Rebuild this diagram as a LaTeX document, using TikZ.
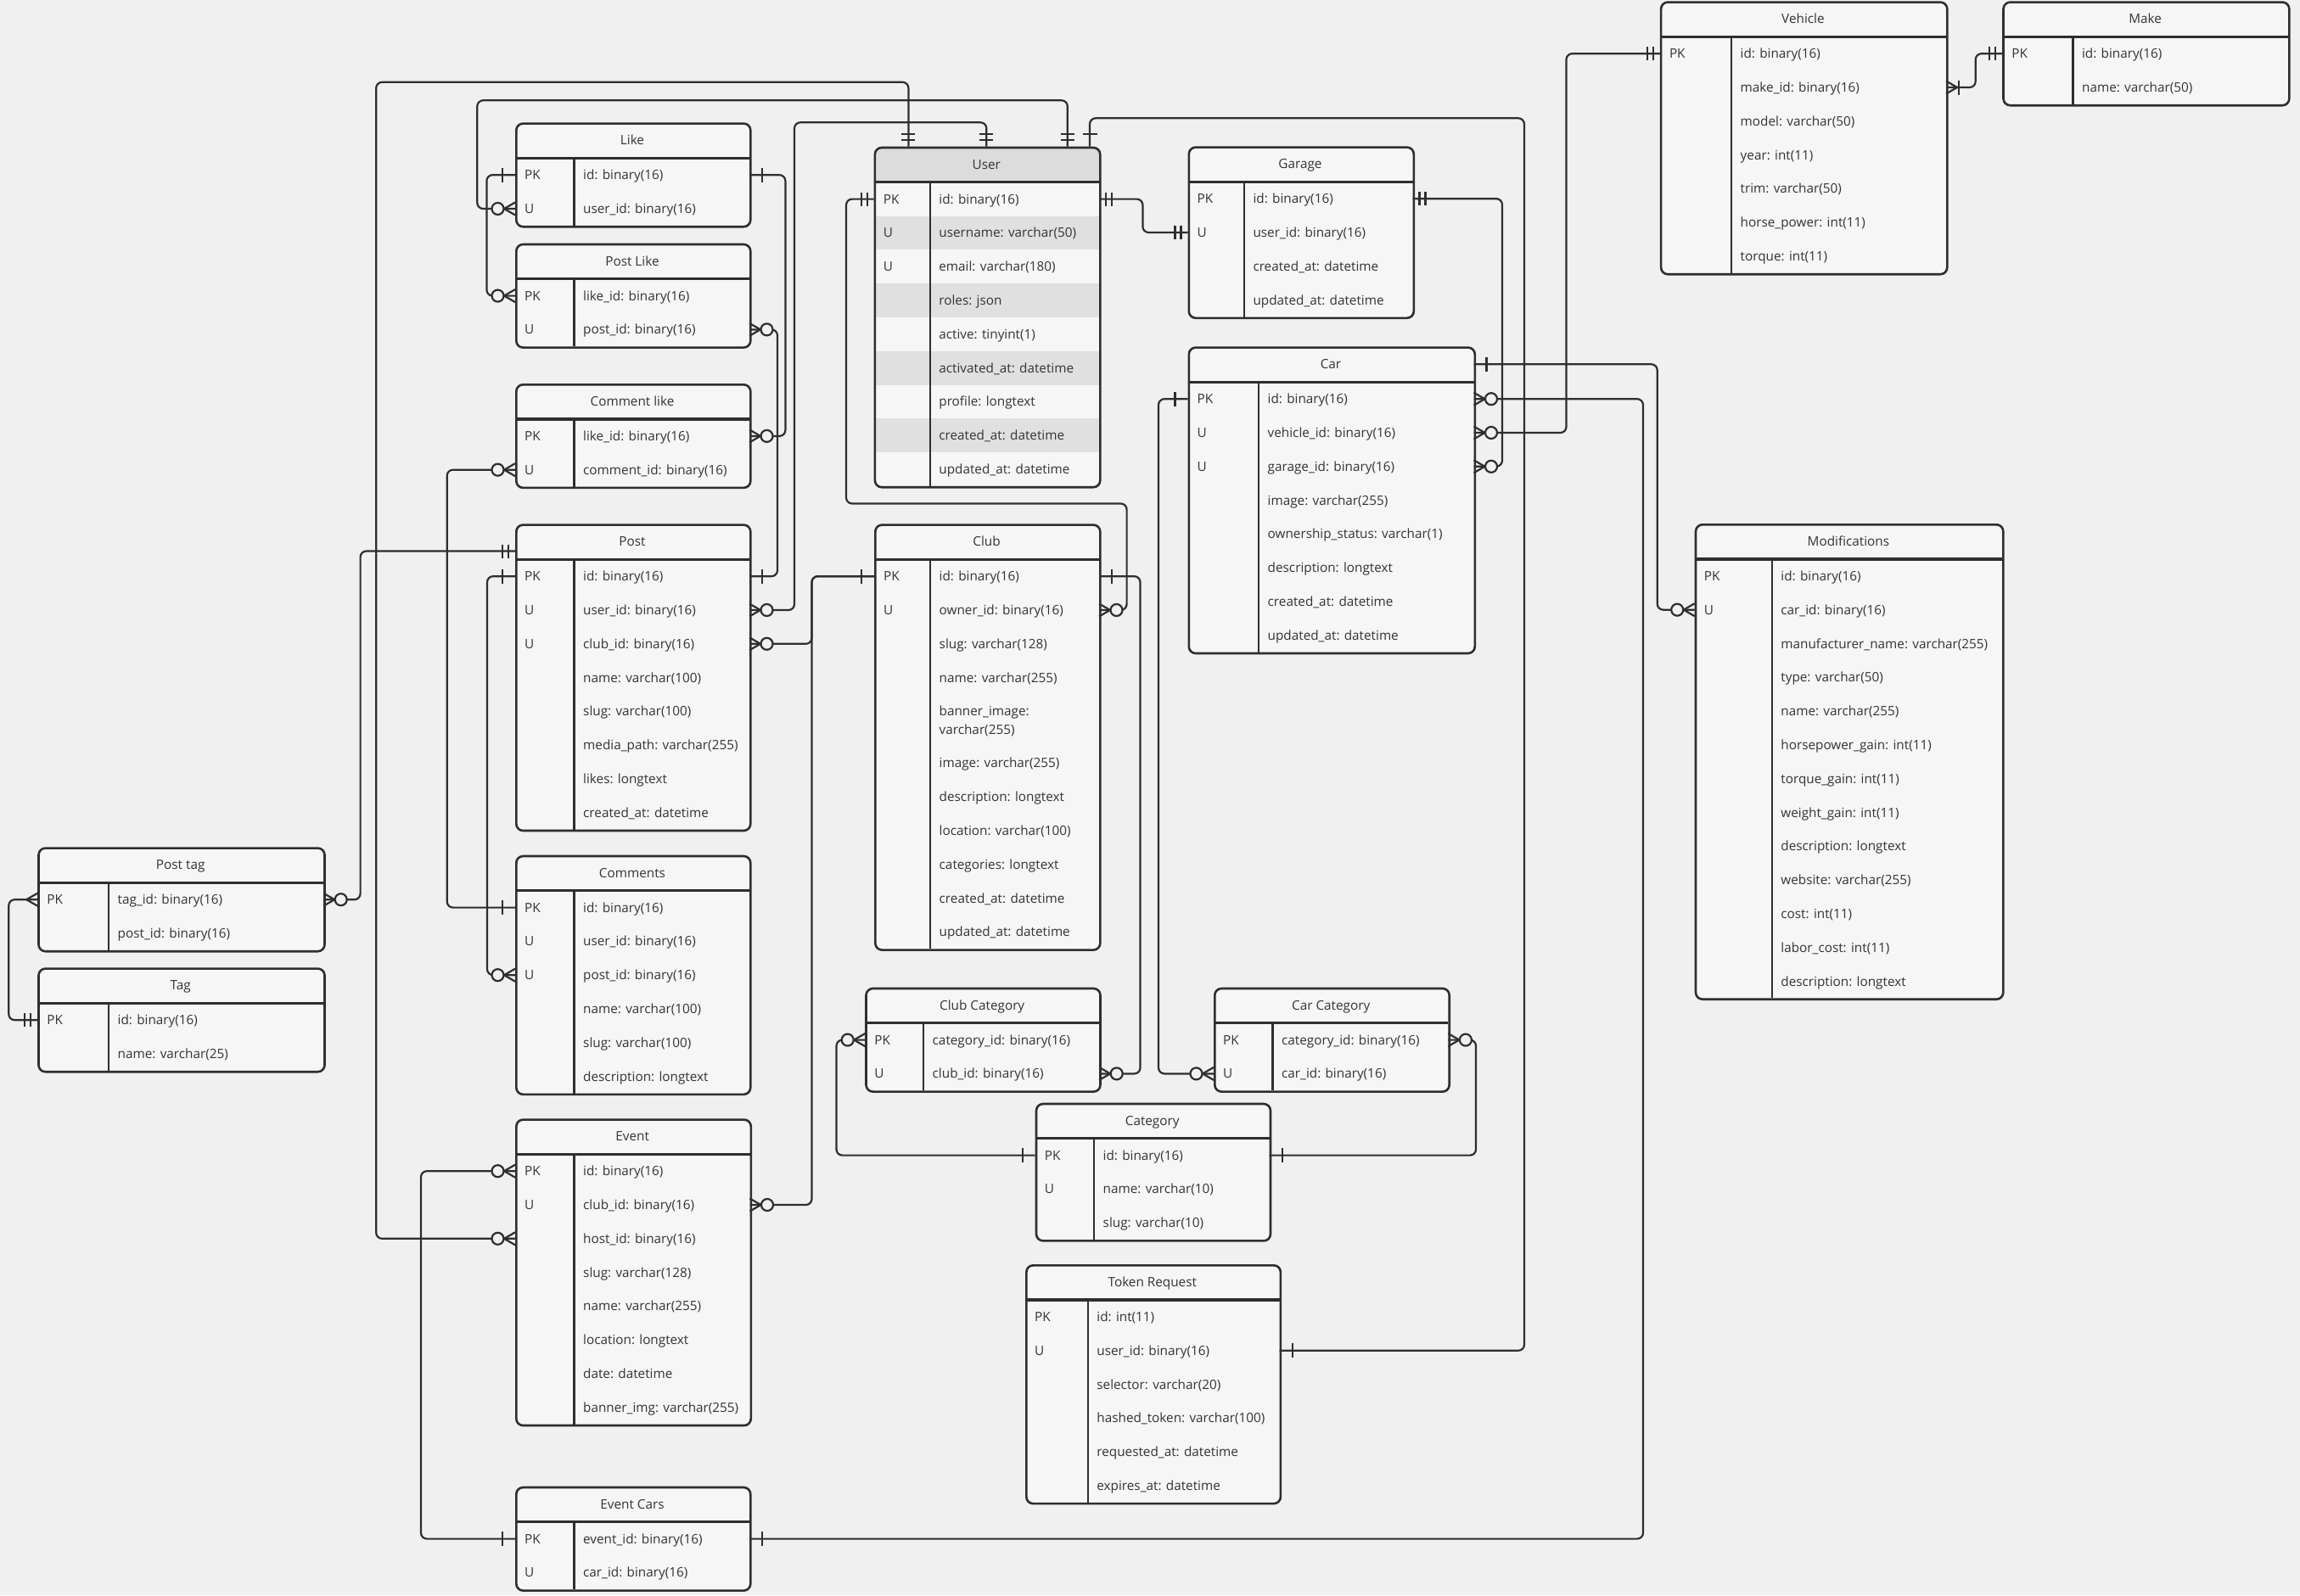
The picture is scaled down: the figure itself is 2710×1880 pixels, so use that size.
\documentclass[tikz,border=0pt]{standalone}
\usepackage{fontspec}
\setmainfont{Open Sans}
\usetikzlibrary{calc}
\definecolor{bg}{HTML}{F0F0F0}
\definecolor{tfill}{HTML}{F6F6F6}
\definecolor{uhdr}{HTML}{DCDCDC}
\definecolor{ushade}{HTML}{E0E0E0}
\definecolor{lc}{HTML}{2E2E2E}
\definecolor{txt}{HTML}{333333}

\def\erextra{0}\def\erafter{0}\let\erhook\relax

\newcommand\ertable[7]{%
  \xdef\ernrows{0}%
  \foreach \erk/\erf [count=\i] in {#7} {\xdef\ernrows{\i}}%
  \pgfmathsetmacro\erH{42+\ernrows*39.8+\erextra}%
  \fill[tfill,rounded corners=8pt] (#2,#3) rectangle ++(#4,\erH);
  \erhook
  \draw[hdrline] (#2,#3+42) -- ++(#4,0);
  \draw[divline] (#2+#5,#3+42) -- ++(0,\erH-42);
  \node[tablebox,minimum width=#4pt,minimum height=\erH pt,anchor=north west] (#1) at (#2,#3) {};
  \node[ttltext] (#1-title) at (#2+#4/2,#3+21) {#6};
  \foreach \erk/\erf [count=\i] in {#7} {%
    \pgfmathsetmacro\ery{#3+42+(\i-0.5)*39.8+(\i>\erafter?\erextra:0)+(\i==\erafter?\erextra/2:0)}%
    \node[keytext] (#1-k\i) at (#2+11,\ery) {\erk};
    \node[fldtext] (#1-f\i) at (#2+#5+10.5,\ery) {\erf};
    \coordinate (#1-L\i) at (#2,\ery);
    \coordinate (#1-R\i) at (#2+#4,\ery);
  }%
}

\newcommand\erOne{\draw[mkl] (15,-8.5)--(15,8.5);}
\newcommand\erMand{\draw[mkl] (8,-8)--(8,8) (15,-8)--(15,8);}
\newcommand\erMany{\draw[mkl] (0,-7.5)--(13,0)--(0,7.5);}
\newcommand\erZmany{\erMany\draw[mkl,fill=bg] (20.5,0) circle[radius=7pt];}
\newcommand\erOneMany{\erMany\erOne}
\newcommand\ermark[3]{\begin{scope}[shift={(#2)},rotate=#3]\csname er#1\endcsname\end{scope}}

\newcommand\bannertext{\rlap{\raisebox{11pt}[0pt][0pt]{banner\_image:}}\raisebox{-11pt}[0pt][0pt]{varchar(255)}}

\begin{document}
\begin{tikzpicture}[x=1pt,y=-1pt,
  tablebox/.style={draw=lc,line width=2.6pt,rounded corners=8pt,inner sep=0pt,rectangle},
  hdrline/.style={draw=lc,line width=3.2pt},
  divline/.style={draw=lc,line width=2.2pt},
  basetext/.style={inner sep=0pt,text=txt,font=\fontsize{15.3pt}{18pt}\selectfont,text height=11pt,text depth=0pt},
  keytext/.style={basetext,anchor=west},
  fldtext/.style={basetext,anchor=west},
  ttltext/.style={basetext,anchor=center},
  conn/.style={draw=lc,line width=2.2pt,rounded corners=7pt},
  mkl/.style={draw=lc,line width=2.2pt}]
\useasboundingbox (0,0) rectangle (2710,1880);
\fill[bg] (0,0) rectangle (2710,1880);

% ---------- tables ----------
\ertable{like}{607}{144.3}{276}{69.5}{Like}{PK/id: binary(16), U/user\_id: binary(16)}
\ertable{plike}{607}{286.7}{276}{69.5}{Post Like}{PK/like\_id: binary(16), U/post\_id: binary(16)}
\ertable{clike}{607}{452}{276}{69.5}{Comment like}{PK/like\_id: binary(16), U/comment\_id: binary(16)}

\def\erhook{%
  \fill[uhdr,rounded corners=8pt] (1029.6,172.7) rectangle ++(265.4,60);
  \fill[tfill] (1029.6,214.7) rectangle ++(265.4,39.8);
  \foreach \r in {2,4,6,8} {\fill[ushade] (1029.6,214.7+\r*39.8-39.8) rectangle ++(265.4,39.8);}
}
\ertable{user}{1029.6}{172.7}{265.4}{66.1}{User}{PK/id: binary(16), U/username: varchar(50), U/email: varchar(180), /roles: json, /active: tinyint(1), /activated\_at: datetime, /profile: longtext, /created\_at: datetime, /updated\_at: datetime}
\let\erhook\relax

\ertable{garage}{1399.5}{172.3}{265}{66.3}{Garage}{PK/id: binary(16), U/user\_id: binary(16), /created\_at: datetime, /updated\_at: datetime}
\ertable{car}{1399.5}{408.3}{337}{83.5}{Car}{PK/id: binary(16), U/vehicle\_id: binary(16), U/garage\_id: binary(16), /image: varchar(255), /ownership\_status: varchar(1), /description: longtext, /created\_at: datetime, /updated\_at: datetime}
\ertable{vehicle}{1955.8}{1.3}{337.2}{84.2}{Vehicle}{PK/id: binary(16), /make\_id: binary(16), /model: varchar(50), /year: int(11), /trim: varchar(50), /horse\_power: int(11), /torque: int(11)}
\ertable{make}{2359.2}{1.3}{336.8}{83.2}{Make}{PK/id: binary(16), /name: varchar(50)}
\ertable{mods}{1996.7}{617}{362.3}{91}{Modifications}{PK/id: binary(16), U/car\_id: binary(16), /manufacturer\_name: varchar(255), /type: varchar(50), /name: varchar(255), /horsepower\_gain: int(11), /torque\_gain: int(11), /weight\_gain: int(11), /description: longtext, /website: varchar(255), /cost: int(11), /labor\_cost: int(11), /description: longtext}
\ertable{post}{607}{617.3}{276}{69.5}{Post}{PK/id: binary(16), U/user\_id: binary(16), U/club\_id: binary(16), /name: varchar(100), /slug: varchar(100), /media\_path: varchar(255), /likes: longtext, /created\_at: datetime}

\def\erextra{21.2}\def\erafter{5}
\ertable{club}{1030}{617.3}{265}{66}{Club}{PK/id: binary(16), U/owner\_id: binary(16), /slug: varchar(128), /name: varchar(255), /\bannertext, /image: varchar(255), /description: longtext, /location: varchar(100), /categories: longtext, /created\_at: datetime, /updated\_at: datetime}
\def\erextra{0}\def\erafter{0}

\ertable{comments}{607}{1007.7}{276}{69.5}{Comments}{PK/id: binary(16), U/user\_id: binary(16), U/post\_id: binary(16), /name: varchar(100), /slug: varchar(100), /description: longtext}
\ertable{ptag}{44.2}{998.3}{337}{83.8}{Post tag}{PK/tag\_id: binary(16), /post\_id: binary(16)}
\ertable{tag}{44.2}{1140.3}{337}{83.8}{Tag}{PK/id: binary(16), /name: varchar(25)}
\ertable{clubcat}{1019.2}{1163.7}{276}{68.8}{Club Category}{PK/category\_id: binary(16), U/club\_id: binary(16)}
\ertable{carcat}{1430}{1163.7}{276.4}{69.4}{Car Category}{PK/category\_id: binary(16), U/car\_id: binary(16)}
\ertable{category}{1219.7}{1299.7}{276}{69.3}{Category}{PK/id: binary(16), U/name: varchar(10), /slug: varchar(10)}
\ertable{event}{607}{1318.3}{276.5}{69.5}{Event}{PK/id: binary(16), U/club\_id: binary(16), /host\_id: binary(16), /slug: varchar(128), /name: varchar(255), /location: longtext, /date: datetime, /banner\_img: varchar(255)}
\ertable{token}{1208}{1490}{299.6}{73.7}{Token Request}{PK/id: int(11), U/user\_id: binary(16), /selector: varchar(20), /hashed\_token: varchar(100), /requested\_at: datetime, /expires\_at: datetime}
\ertable{ecars}{607}{1751.7}{276}{69.5}{Event Cars}{PK/event\_id: binary(16), U/car\_id: binary(16)}

% ---------- extra attach points ----------
\coordinate (user-t1) at (1070.4,172.7);
\coordinate (user-t2) at (1162.3,172.7);
\coordinate (user-t3) at (1257.8,172.7);
\coordinate (user-t4) at (1284,172.7);
\coordinate (post-hl) at (607,649.5);
\coordinate (car-hr) at (1736.5,429.3);

% ---------- connectors ----------
\draw[conn] (like-R1) -- ++(42.4,0) |- (clike-R1);
\draw[conn] (post-R1) -- ++(33,0) |- (plike-R2);
\draw[conn] (like-L1) -- ++(-33.6,0) |- (plike-L1);
\draw[conn] (user-t3) |- (562.3,118.3) |- (like-L2);
\draw[conn] (user-t1) |- (443.2,96.8) |- (event-L3);
\draw[conn] (user-t2) |- (936,144.3) |- (post-R2);
\draw[conn] (user-t4) |- (1796,139.3) |- (token-R2);
\draw[conn] (user-L1) -| (997,593.5) -| ($(club-R2)+(32.6,0)$) -- (club-R2);
\draw[conn] (user-R1) -- ++(51.4,0) |- (garage-L2);
\draw[conn] (garage-R1) -- ++(105.5,0) |- (car-R3);
\draw[conn] (vehicle-L1) -- ++(-110.3,0) |- (car-R2);
\draw[conn] (make-L1) -- ++(-31.5,0) |- (vehicle-R2);
\draw[conn] (car-hr) -- ++(216.2,0) |- (mods-L2);
\draw[conn] (car-R1) -- ++(199.5,0) |- (ecars-R1);
\draw[conn] (event-L1) -- ++(-111,0) |- (ecars-L1);
\draw[conn] (car-L1) -- ++(-34.5,0) |- (carcat-L2);
\draw[conn] (club-R1) -- ++(48.5,0) |- (clubcat-R2);
\draw[conn] (club-L1) -- ++(-73.5,0) |- (post-R3);
\draw[conn] (club-L1) -- ++(-73.5,0) |- (event-R2);
\draw[conn] (post-hl) -- ++(-182.4,0) |- (ptag-R1);
\draw[conn] (tag-L1) -- ++(-33.9,0) |- (ptag-L1);
\draw[conn] (comments-L1) -- ++(-80.3,0) |- (clike-L2);
\draw[conn] (post-L1) -- ++(-33,0) |- (comments-L3);
\draw[conn] (category-L1) -- ++(-234.2,0) |- (clubcat-L1);
\draw[conn] (category-R1) -- ++(243.3,0) |- (carcat-R1);

% ---------- end markers ----------
\ermark{One}{like-R1}{0} \ermark{Zmany}{clike-R1}{0}
\ermark{One}{post-R1}{0} \ermark{Zmany}{plike-R2}{0}
\ermark{One}{like-L1}{180} \ermark{Zmany}{plike-L1}{180}
\ermark{Mand}{user-t3}{90} \ermark{Zmany}{like-L2}{180}
\ermark{Mand}{user-t1}{90} \ermark{Zmany}{event-L3}{180}
\ermark{Mand}{user-t2}{90} \ermark{Zmany}{post-R2}{0}
\ermark{One}{user-t4}{90} \ermark{One}{token-R2}{0}
\ermark{Mand}{user-L1}{180} \ermark{Zmany}{club-R2}{0}
\ermark{Mand}{user-R1}{0} \ermark{Mand}{garage-L2}{180}
\ermark{Mand}{garage-R1}{0} \ermark{Zmany}{car-R3}{0}
\ermark{Mand}{vehicle-L1}{180} \ermark{Zmany}{car-R2}{0}
\ermark{Mand}{make-L1}{180} \ermark{OneMany}{vehicle-R2}{0}
\ermark{One}{car-hr}{0} \ermark{Zmany}{mods-L2}{180}
\ermark{Zmany}{car-R1}{0} \ermark{One}{ecars-R1}{0}
\ermark{Zmany}{event-L1}{180} \ermark{One}{ecars-L1}{180}
\ermark{One}{car-L1}{180} \ermark{Zmany}{carcat-L2}{180}
\ermark{One}{club-R1}{0} \ermark{Zmany}{clubcat-R2}{0}
\ermark{One}{club-L1}{180} \ermark{Zmany}{post-R3}{0} \ermark{Zmany}{event-R2}{0}
\ermark{Mand}{post-hl}{180} \ermark{Zmany}{ptag-R1}{0}
\ermark{Mand}{tag-L1}{180} \ermark{Many}{ptag-L1}{180}
\ermark{One}{comments-L1}{180} \ermark{Zmany}{clike-L2}{180}
\ermark{One}{post-L1}{180} \ermark{Zmany}{comments-L3}{180}
\ermark{One}{category-L1}{180} \ermark{Zmany}{clubcat-L1}{180}
\ermark{One}{category-R1}{0} \ermark{Zmany}{carcat-R1}{0}
\end{tikzpicture}
\end{document}
